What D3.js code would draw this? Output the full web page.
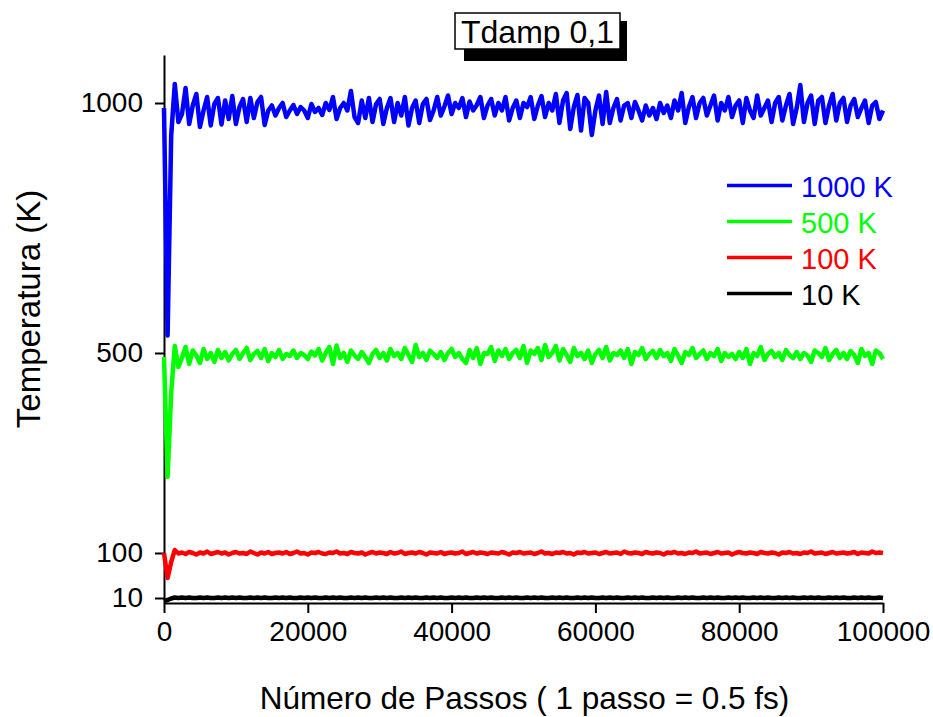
<!DOCTYPE html>
<html>
<head>
<meta charset="utf-8">
<script src="https://cdn.jsdelivr.net/npm/d3@7"></script>
<style>
  body { margin: 0; background: #fff; }
  svg text { font-family: "Liberation Sans", Arial, sans-serif; }
</style>
</head>
<body>
<script>
// steps sampled every 500 passos
var passos = d3.range(0, 100001, 500);

var t1000 = [
  990, 535, 935, 1038, 962, 978, 1030, 958, 995, 1018,
  952, 985, 1012, 955, 998, 1010, 957, 1005, 968, 1014,
  958, 992, 1008, 962, 1010, 970, 1002, 1012, 956, 985,
  995, 975, 990, 1000, 972, 985, 996, 978, 992, 985,
  970, 998, 982, 990, 976, 1000, 986, 1012, 968, 990,
  1000, 985, 1024, 972, 960, 1005, 970, 1010, 962, 998,
  1008, 958, 990, 1010, 962, 1000, 975, 1012, 955, 990,
  1005, 960, 998, 1008, 966, 985, 1012, 975, 993, 1015,
  978, 1000, 990, 1010, 972, 1003, 985, 996, 1012, 970,
  995, 1008, 975, 1000, 985, 1012, 965, 990, 1005, 970,
  1000, 992, 1012, 968, 995, 1014, 972, 1000, 985, 1018,
  960, 1005, 1020, 948, 992, 1016, 945, 1010, 1000, 936,
  985, 1015, 958, 1022, 960, 990, 1008, 965, 995, 1000,
  970, 1002, 985, 965, 995, 975, 990, 968, 1000, 980,
  995, 970, 1005, 985, 1020, 960, 992, 1012, 970, 1000,
  1010, 975, 995, 1015, 965, 1000, 985, 1012, 972, 995,
  1005, 960, 1010, 985, 970, 1015, 975, 990, 1005, 962,
  1000, 1012, 965, 995, 1018, 958, 990, 1036, 962, 1000,
  1015, 958, 1005, 1012, 960, 995, 1018, 965, 1000, 1010,
  962, 995, 1008, 972, 990, 1005, 960, 995, 1002, 968,
  985
];

var t500 = [
  492, 252, 420, 514, 472, 490, 512, 478, 505, 495,
  480, 508, 488, 500, 482, 506, 490, 502, 485, 498,
  506, 488, 500, 510, 486, 498, 504, 490, 508, 484,
  500, 492, 506, 488, 498, 494, 505, 490, 500, 496,
  488, 503, 495, 508, 485, 500, 512, 478, 515, 490,
  500, 482, 505, 495, 488, 502, 492, 480, 498, 506,
  490, 500, 485, 508, 494, 500, 488, 510, 496, 482,
  516, 492, 500, 486, 505, 498, 490, 502, 486, 500,
  508, 492, 500, 488, 480, 506, 490, 510, 478, 500,
  498, 512, 484, 505, 494, 508, 488, 500, 506, 490,
  514, 480, 505, 498, 510, 486, 516, 492, 500, 514,
  485, 508, 496, 482, 510, 494, 500, 488, 505, 480,
  498, 506, 490, 512, 485, 500, 496, 505, 490, 508,
  478, 502, 496, 510, 488, 498, 504, 490, 506, 494,
  500, 484, 508, 495, 480, 502, 496, 510, 490, 498,
  505, 488, 500, 494, 508, 484, 500, 492, 498, 488,
  502, 490, 508, 478, 500, 494, 512, 486, 498, 504,
  492, 500, 486, 506, 496, 490, 502, 488, 500, 495,
  482, 505, 500, 492, 510, 486, 498, 506, 490, 500,
  488, 504, 496, 480, 508, 494, 500, 478, 505, 500,
  488
];

var t100 = [
  100, 50, 82, 106, 99, 101, 98, 102, 100, 97,
  101, 99, 103, 98, 100, 102, 99, 101, 97, 100,
  102, 99, 100, 98, 103, 100, 97, 101, 99, 102,
  98, 100, 101, 99, 102, 98, 100, 103, 99, 100,
  97, 101, 100, 102, 99, 98, 101, 100, 103, 99,
  100, 98, 102, 100, 99, 101, 97, 100, 102, 99,
  101, 100, 98, 102, 99, 100, 103, 98, 100, 101,
  99, 102, 100, 97, 101, 100, 99, 102, 98, 100,
  101, 99, 100, 103, 98, 100, 102, 99, 101, 100,
  98, 101, 100, 99, 102, 100, 97, 101, 100, 102,
  99, 100, 101, 98, 100, 103, 99, 100, 98, 101,
  100, 102, 99, 100, 97, 101, 100, 102, 99, 100,
  101, 98, 100, 102, 99, 100, 101, 98, 103, 100,
  99, 101, 100, 98, 102, 100, 99, 101, 100, 97,
  101, 100, 102, 99, 100, 98, 101, 100, 103, 99,
  100, 101, 98, 100, 102, 99, 100, 101, 97, 100,
  102, 100, 99, 101, 100, 98, 102, 100, 99, 101,
  100, 97, 101, 100, 102, 99, 100, 98, 101, 100,
  103, 99, 100, 101, 98, 100, 102, 99, 100, 101,
  99, 100, 102, 98, 101, 100, 99, 103, 100, 101,
  100
];

var t10 = [
  4, 6, 9, 11, 10, 11, 10, 11, 10, 10,
  11, 10, 11, 10, 10, 11, 10, 11, 10, 11,
  10, 11, 10, 10, 11, 10, 11, 10, 11, 10,
  10, 11, 10, 11, 10, 11, 10, 10, 11, 10,
  11, 10, 11, 10, 10, 11, 10, 11, 10, 11,
  10, 10, 11, 10, 11, 10, 11, 10, 10, 11,
  10, 11, 10, 11, 10, 10, 11, 10, 11, 10,
  11, 10, 10, 11, 10, 11, 10, 11, 10, 10,
  11, 10, 11, 10, 11, 10, 10, 11, 10, 11,
  10, 11, 10, 10, 11, 10, 11, 10, 11, 10,
  10, 11, 10, 11, 10, 11, 10, 10, 11, 10,
  11, 10, 11, 10, 10, 11, 10, 11, 10, 11,
  10, 10, 11, 10, 11, 10, 11, 10, 10, 11,
  10, 11, 10, 11, 10, 10, 11, 10, 11, 10,
  11, 10, 10, 11, 10, 11, 10, 11, 10, 10,
  11, 10, 11, 10, 11, 10, 10, 11, 10, 11,
  10, 11, 10, 10, 11, 10, 11, 10, 11, 10,
  10, 11, 10, 11, 10, 11, 10, 10, 11, 10,
  11, 10, 11, 10, 10, 11, 10, 11, 10, 11,
  10, 10, 11, 10, 11, 10, 11, 10, 10, 11,
  10
];

var seriesNames = ['1000 K', '500 K', '100 K', '10 K'];
var seriesColors = ['#0000ff', '#00ff00', '#ff0000', '#000000'];
var seriesData = [t1000, t500, t100, t10];

var xTicks = [0, 20000, 40000, 60000, 80000, 100000];
var yTicks = [10, 100, 500, 1000];

var W = 933, H = 717;
var mLeft = 164, mRight = 883, mTop = 55, mBottom = 603;

var svg = d3.select('body').append('svg').attr('width', W).attr('height', H);

var x = d3.scaleLinear().domain([0, 100000]).range([mLeft, mRight]);
var y = d3.scaleLinear().domain([0, 1096]).range([mBottom, mTop]);

// axes
var gx = svg.append('g').attr('transform', 'translate(0,' + mBottom + ')')
  .call(d3.axisBottom(x).tickValues(xTicks).tickFormat(d3.format('d'))
    .tickSize(10).tickSizeOuter(0).tickPadding(8));
var gy = svg.append('g').attr('transform', 'translate(' + mLeft + ',0)')
  .call(d3.axisLeft(y).tickValues(yTicks).tickFormat(d3.format('d'))
    .tickSize(9).tickSizeOuter(0).tickPadding(12));

[gx, gy].forEach(function(g){
  g.select('.domain').attr('stroke', '#000').attr('stroke-width', 2);
  g.selectAll('.tick line').attr('stroke', '#000').attr('stroke-width', 2);
  g.selectAll('.tick text').attr('fill', '#000').style('font-size', '28px')
    .style('font-family', '"Liberation Sans", Arial, sans-serif');
});

// lines
var line = d3.line()
  .x(function(d, i){ return x(passos[i]); })
  .y(function(d){ return y(d); });

seriesData.forEach(function(vals, k){
  svg.append('path').datum(vals)
    .attr('d', line)
    .attr('fill', 'none')
    .attr('stroke', seriesColors[k])
    .attr('stroke-width', 4.5)
    .attr('stroke-linejoin', 'round');
});

// axis titles
svg.append('text')
  .attr('x', (mLeft + mRight) / 2 + 1).attr('y', 709)
  .attr('text-anchor', 'middle')
  .style('font-size', '31.5px')
  .text('Número de Passos ( 1 passo = 0.5 fs)');

svg.append('text')
  .attr('transform', 'translate(40,309) rotate(-90)')
  .attr('text-anchor', 'middle')
  .style('font-size', '33px')
  .text('Temperatura (K)');

// title box with shadow
svg.append('rect').attr('x', 464).attr('y', 21).attr('width', 163).attr('height', 40).attr('fill', '#000');
svg.append('rect').attr('x', 455).attr('y', 13).attr('width', 165).attr('height', 36)
  .attr('fill', '#fff').attr('stroke', '#000').attr('stroke-width', 1.5);
svg.append('text').attr('x', 537.5).attr('y', 43).attr('text-anchor', 'middle')
  .style('font-size', '32px').text('Tdamp 0,1');

// legend
var leg = svg.selectAll('.leg').data(seriesNames).enter().append('g')
  .attr('class', 'leg')
  .attr('transform', function(d, i){ return 'translate(727,' + (185.5 + i * 36) + ')'; });
leg.append('line').attr('x1', 0).attr('x2', 65).attr('y1', 0).attr('y2', 0)
  .attr('stroke', function(d, i){ return seriesColors[i]; }).attr('stroke-width', 3.5);
leg.append('text').attr('x', 74).attr('y', 11)
  .style('font-size', '29px')
  .attr('fill', function(d, i){ return seriesColors[i]; })
  .text(function(d){ return d; });
</script>
</body>
</html>
